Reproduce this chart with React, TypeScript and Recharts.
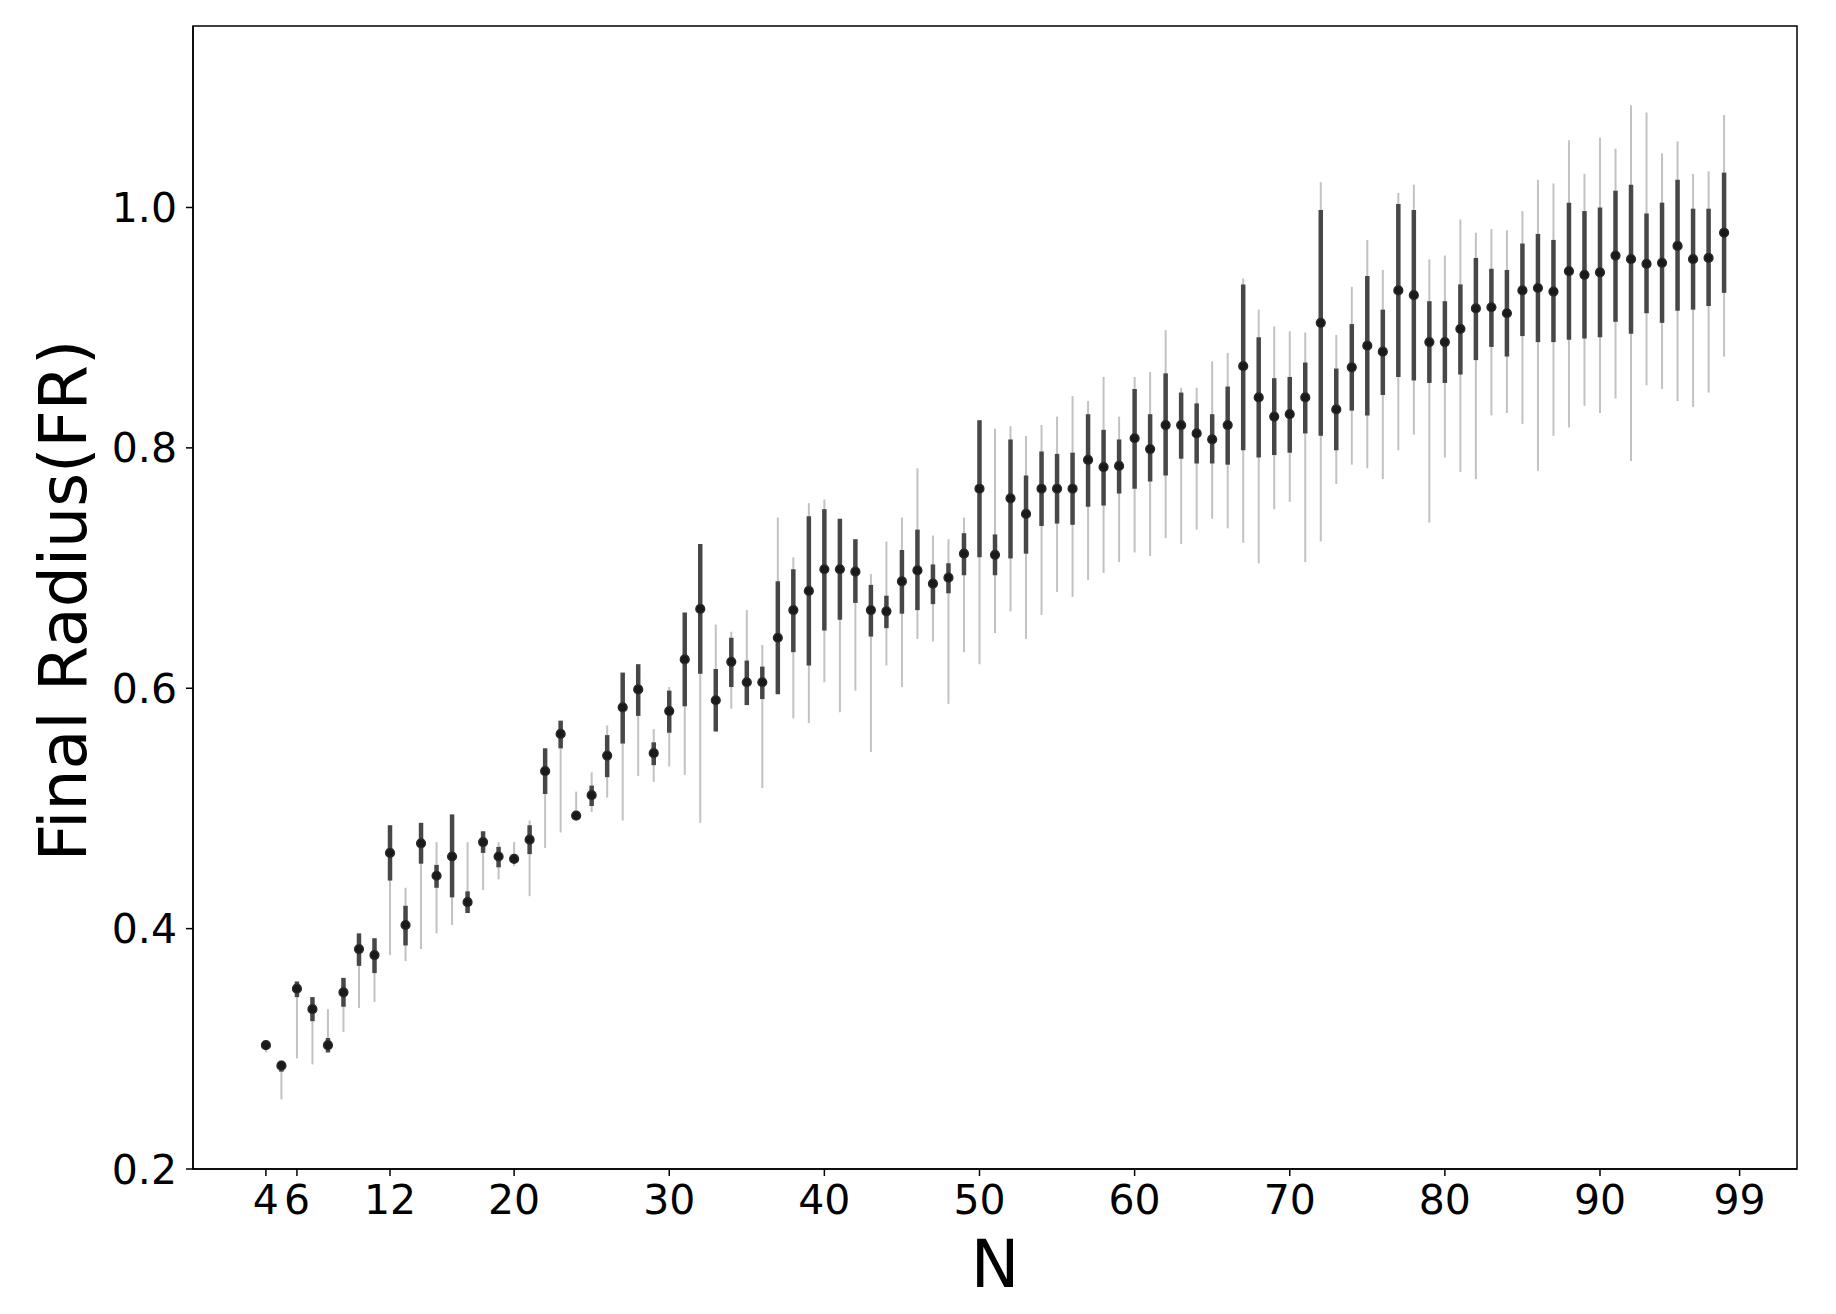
import React from 'react';
import { ComposedChart, Scatter, ErrorBar, XAxis, YAxis, ReferenceArea, Label } from 'recharts';

const nValues = [4, 5, 6, 7, 8, 9, 10, 11, 12, 13, 14, 15, 16, 17, 18, 19, 20, 21, 22, 23, 24, 25, 26, 27, 28, 29, 30, 31, 32, 33, 34, 35, 36, 37, 38, 39, 40, 41, 42, 43, 44, 45, 46, 47, 48, 49, 50, 51, 52, 53, 54, 55, 56, 57, 58, 59, 60, 61, 62, 63, 64, 65, 66, 67, 68, 69, 70, 71, 72, 73, 74, 75, 76, 77, 78, 79, 80, 81, 82, 83, 84, 85, 86, 87, 88, 89, 90, 91, 92, 93, 94, 95, 96, 97, 98];

const medians = [0.303, 0.286, 0.350, 0.333, 0.303, 0.347, 0.383, 0.378, 0.463, 0.403, 0.471, 0.444, 0.460, 0.422, 0.472, 0.460, 0.458, 0.474, 0.531, 0.562, 0.494, 0.511, 0.544, 0.584, 0.599, 0.546, 0.581, 0.624, 0.666, 0.590, 0.622, 0.605, 0.605, 0.642, 0.665, 0.681, 0.699, 0.699, 0.697, 0.665, 0.664, 0.689, 0.698, 0.687, 0.692, 0.712, 0.766, 0.711, 0.758, 0.745, 0.766, 0.766, 0.766, 0.790, 0.784, 0.785, 0.808, 0.799, 0.819, 0.819, 0.812, 0.807, 0.819, 0.868, 0.842, 0.826, 0.828, 0.842, 0.904, 0.832, 0.867, 0.885, 0.880, 0.931, 0.927, 0.888, 0.888, 0.899, 0.916, 0.917, 0.912, 0.931, 0.933, 0.930, 0.947, 0.944, 0.946, 0.960, 0.957, 0.953, 0.954, 0.968, 0.957, 0.958, 0.979];

const q1Values = [0.300, 0.281, 0.343, 0.323, 0.297, 0.335, 0.369, 0.363, 0.440, 0.386, 0.454, 0.434, 0.426, 0.413, 0.463, 0.451, 0.456, 0.462, 0.512, 0.550, 0.492, 0.502, 0.526, 0.554, 0.577, 0.536, 0.563, 0.585, 0.612, 0.564, 0.601, 0.586, 0.591, 0.595, 0.630, 0.619, 0.648, 0.657, 0.671, 0.643, 0.650, 0.662, 0.665, 0.670, 0.679, 0.694, 0.709, 0.694, 0.708, 0.712, 0.735, 0.737, 0.736, 0.751, 0.752, 0.762, 0.766, 0.772, 0.777, 0.791, 0.787, 0.787, 0.786, 0.798, 0.792, 0.794, 0.796, 0.812, 0.810, 0.798, 0.831, 0.827, 0.844, 0.859, 0.856, 0.854, 0.854, 0.861, 0.873, 0.884, 0.876, 0.893, 0.888, 0.888, 0.890, 0.891, 0.892, 0.905, 0.895, 0.912, 0.904, 0.914, 0.915, 0.918, 0.929];

const q3Values = [0.306, 0.290, 0.356, 0.343, 0.309, 0.359, 0.396, 0.392, 0.486, 0.419, 0.488, 0.453, 0.495, 0.431, 0.481, 0.468, 0.460, 0.486, 0.550, 0.573, 0.496, 0.519, 0.561, 0.613, 0.620, 0.555, 0.598, 0.663, 0.720, 0.616, 0.642, 0.623, 0.618, 0.689, 0.699, 0.743, 0.749, 0.741, 0.724, 0.686, 0.677, 0.715, 0.732, 0.703, 0.704, 0.729, 0.823, 0.728, 0.807, 0.777, 0.797, 0.795, 0.796, 0.828, 0.815, 0.807, 0.849, 0.828, 0.862, 0.846, 0.837, 0.828, 0.851, 0.936, 0.892, 0.858, 0.859, 0.871, 0.998, 0.866, 0.903, 0.943, 0.915, 1.003, 0.998, 0.922, 0.922, 0.936, 0.958, 0.949, 0.948, 0.970, 0.978, 0.973, 1.004, 0.997, 1.000, 1.014, 1.019, 0.995, 1.004, 1.023, 0.999, 0.999, 1.029];

const minValues = [0.297, 0.258, 0.292, 0.287, 0.297, 0.314, 0.334, 0.339, 0.378, 0.373, 0.383, 0.396, 0.403, 0.413, 0.432, 0.441, 0.452, 0.427, 0.467, 0.480, 0.492, 0.497, 0.509, 0.490, 0.527, 0.522, 0.535, 0.528, 0.488, 0.564, 0.583, 0.586, 0.517, 0.595, 0.575, 0.571, 0.605, 0.580, 0.598, 0.547, 0.619, 0.601, 0.641, 0.639, 0.587, 0.630, 0.620, 0.646, 0.664, 0.641, 0.661, 0.680, 0.676, 0.690, 0.696, 0.705, 0.713, 0.710, 0.725, 0.720, 0.732, 0.741, 0.733, 0.721, 0.704, 0.749, 0.755, 0.705, 0.722, 0.770, 0.786, 0.783, 0.774, 0.798, 0.811, 0.738, 0.792, 0.780, 0.774, 0.827, 0.829, 0.820, 0.781, 0.810, 0.817, 0.835, 0.829, 0.841, 0.789, 0.852, 0.849, 0.839, 0.834, 0.846, 0.876];

const maxValues = [0.306, 0.290, 0.356, 0.343, 0.333, 0.359, 0.396, 0.392, 0.486, 0.434, 0.488, 0.472, 0.495, 0.472, 0.481, 0.472, 0.472, 0.490, 0.550, 0.573, 0.514, 0.530, 0.569, 0.613, 0.620, 0.566, 0.601, 0.663, 0.720, 0.653, 0.647, 0.665, 0.636, 0.742, 0.709, 0.754, 0.757, 0.741, 0.724, 0.695, 0.722, 0.742, 0.783, 0.727, 0.724, 0.742, 0.823, 0.816, 0.818, 0.810, 0.819, 0.826, 0.843, 0.839, 0.859, 0.826, 0.859, 0.863, 0.898, 0.850, 0.850, 0.872, 0.879, 0.941, 0.915, 0.901, 0.897, 0.896, 1.021, 0.894, 0.934, 0.973, 0.948, 1.012, 1.019, 0.957, 0.960, 0.990, 0.979, 0.982, 0.981, 0.997, 1.023, 1.020, 1.056, 1.028, 1.058, 1.049, 1.085, 1.079, 1.045, 1.055, 1.028, 1.030, 1.077];

const xTicks = [4, 6, 12, 20, 30, 40, 50, 60, 70, 80, 90, 99];
const yTicks = [0.2, 0.4, 0.6, 0.8, 1.0];

const rows = nValues.map((n, i) => ({
  n,
  med: medians[i],
  iqr: [medians[i] - q1Values[i], q3Values[i] - medians[i]],
  range: [medians[i] - minValues[i], maxValues[i] - medians[i]],
}));

const FONT = 'DejaVu Sans, Verdana, sans-serif';

const MedianDot = (props: any) => {
  const { cx, cy } = props;
  if (cx == null || cy == null) return null;
  return <circle cx={cx} cy={cy} r={4.4} fill="#1a1a1a" stroke="#2a2a2a" strokeWidth={1.4} />;
};

export default function App() {
  return (
    <ComposedChart
      width={1820}
      height={1300}
      margin={{ top: 18, right: 31, bottom: 0, left: 0 }}
      style={{ background: '#fff' }}
    >
      <XAxis
        dataKey="n"
        type="number"
        domain={[-0.7, 102.7]}
        ticks={xTicks}
        allowDataOverflow
        height={139}
        tickSize={7}
        tickMargin={9}
        interval={0}
        axisLine={{ stroke: '#000', strokeWidth: 1.5 }}
        tickLine={{ stroke: '#000', strokeWidth: 1.5 }}
        tick={{ fill: '#000', fontSize: 41, fontFamily: FONT }}
      >
        <Label
          content={(p: any) => {
            const vb = p.viewBox || {};
            return (
              <text x={vb.x + vb.width / 2} y={vb.y + 118} textAnchor="middle" fontSize={65} fontFamily={FONT} fill="#000">
                N
              </text>
            );
          }}
        />
      </XAxis>
      <YAxis
        dataKey="med"
        type="number"
        domain={[0.2, 1.151]}
        ticks={yTicks}
        allowDataOverflow
        width={185}
        tickSize={7}
        tickMargin={9}
        interval={0}
        tickFormatter={(v: number) => v.toFixed(1)}
        axisLine={{ stroke: '#000', strokeWidth: 1.5 }}
        tickLine={{ stroke: '#000', strokeWidth: 1.5 }}
        tick={{ fill: '#000', fontSize: 41, fontFamily: FONT }}
      >
        <Label
          content={(p: any) => {
            const vb = p.viewBox || {};
            const x = vb.x + 78;
            const y = vb.y + vb.height / 2 + 3;
            return (
              <text x={x} y={y} transform={`rotate(-90, ${x}, ${y})`} textAnchor="middle" fontSize={65} fontFamily={FONT} fill="#000">
                Final Radius(FR)
              </text>
            );
          }}
        />
      </YAxis>
      <ReferenceArea x1={-0.7} x2={102.7} y1={0.2} y2={1.151} fill="none" stroke="#000" strokeWidth={1.5} ifOverflow="visible" />
      <Scatter data={rows} dataKey="med" isAnimationActive={false} shape={MedianDot}>
        <ErrorBar dataKey="range" direction="y" width={0} stroke="#c2c2c2" strokeWidth={2} isAnimationActive={false} />
        <ErrorBar dataKey="iqr" direction="y" width={0} stroke="#474747" strokeWidth={4.5} isAnimationActive={false} />
      </Scatter>
    </ComposedChart>
  );
}
